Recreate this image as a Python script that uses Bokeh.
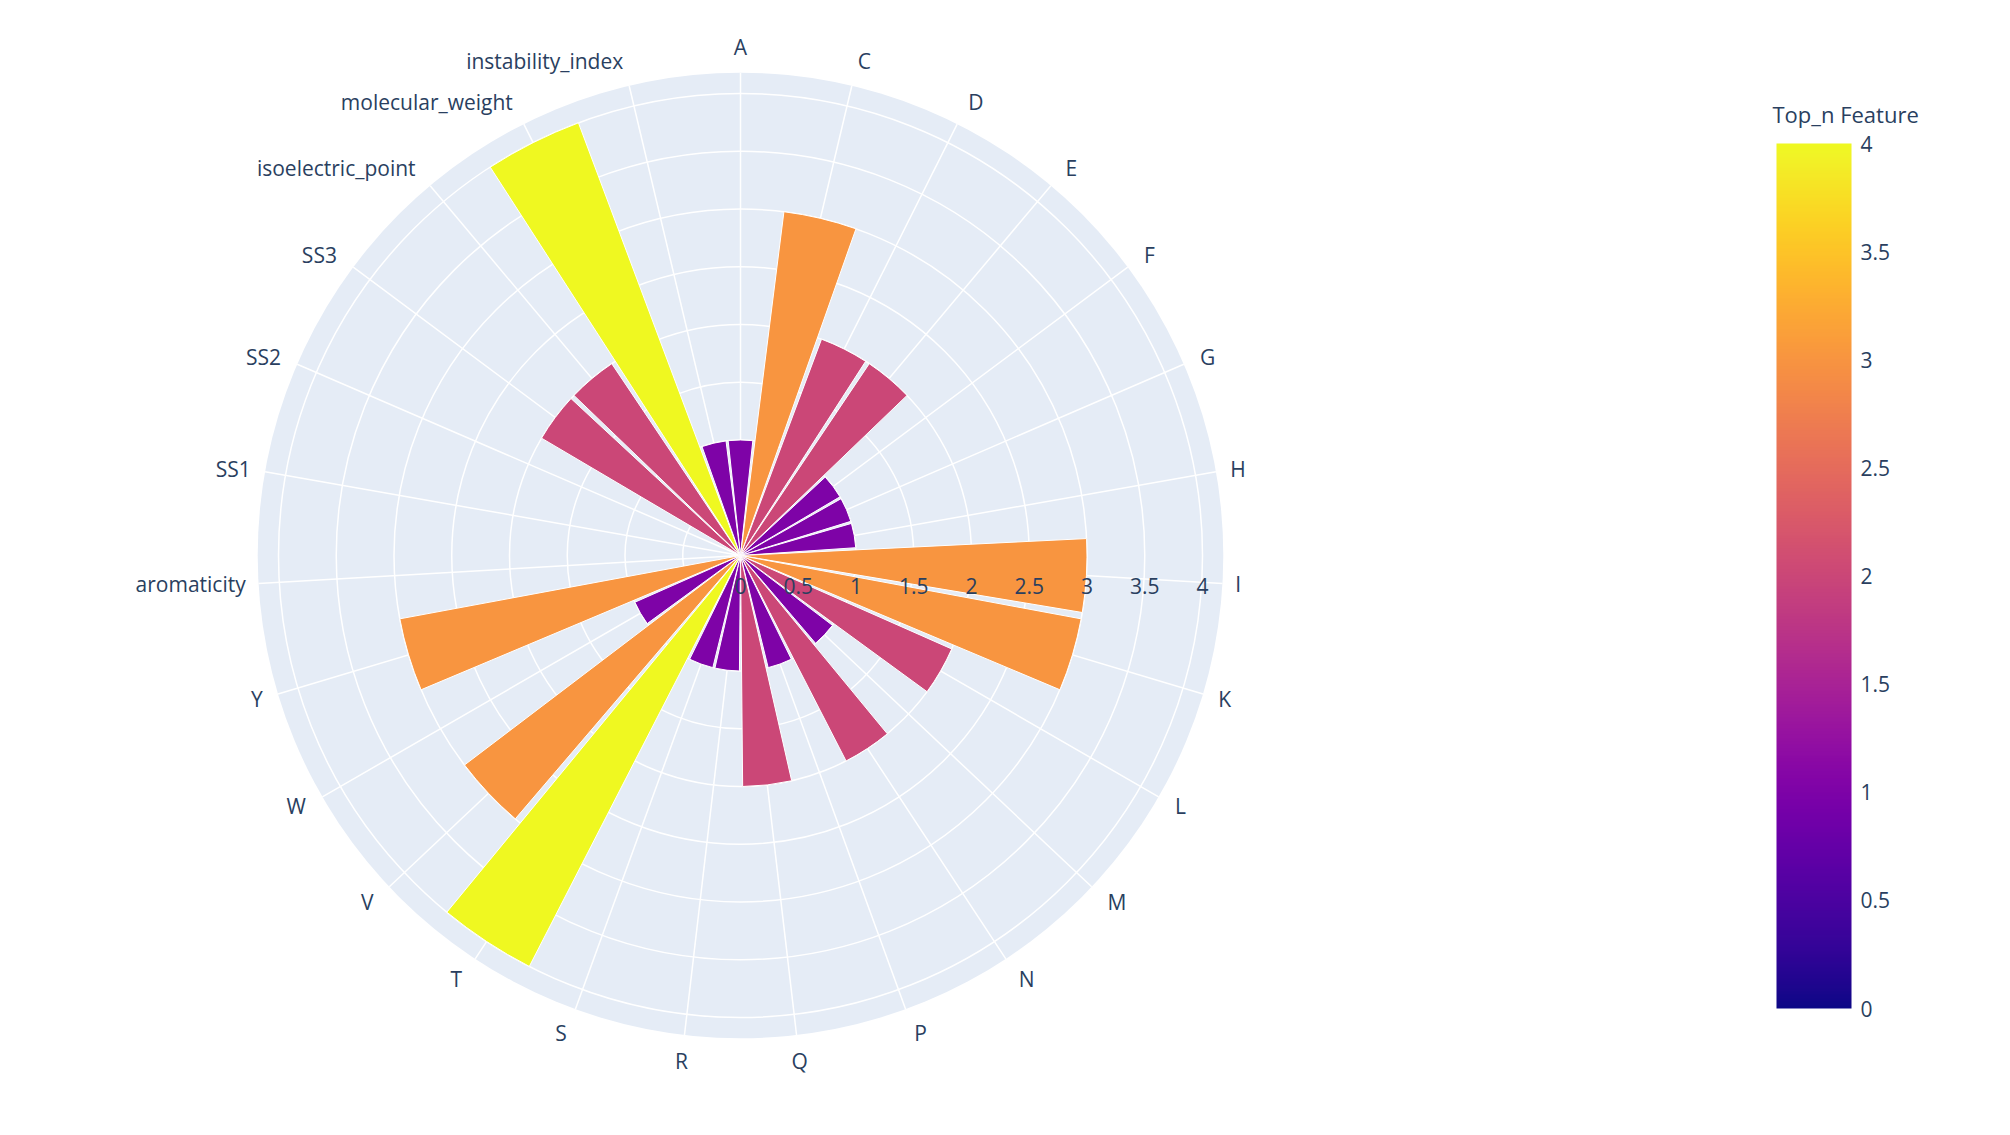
import numpy as np
from bokeh.plotting import figure
from bokeh.models import Range1d, ColumnDataSource, LinearColorMapper
from bokeh.transform import transform
from bokeh.palettes import Plasma256
from bokeh.core.properties import value
from bokeh.embed import file_html
from bokeh.resources import INLINE

categories = ["A", "C", "D", "E", "F", "G", "H", "I", "K", "L", "M", "N", "P", "Q", "R",
              "S", "T", "V", "W", "Y", "aromaticity", "SS1", "SS2", "SS3",
              "isoelectric_point", "molecular_weight", "instability_index"]
top_n = [1, 3, 2, 2, 1, 1, 1, 3, 3, 2, 1, 2, 1, 2, 1,
         1, 4, 3, 1, 3, 0, 0, 0, 2,
         2, 4, 1]
radial_ticks = [0, 0.5, 1, 1.5, 2, 2.5, 3, 3.5, 4]
colorbar_ticks = [0, 0.5, 1, 1.5, 2, 2.5, 3, 3.5, 4]
colorbar_title = "Top_n Feature"

W, H = 1994, 1119
cx, cy = 740, 555          # canvas px of polar centre
S = 115.5                  # px per unit
RMAX = 4.18
FONT = "Open Sans"
TXT = "#2a3f5f"

def X(px): return (px - cx) / S
def Y(py): return (cy - py) / S

p = figure(width=W, height=H, output_backend="svg", toolbar_location=None,
           x_range=Range1d(X(0), X(W)), y_range=Range1d(Y(H), Y(0)),
           min_border=0)
p.axis.visible = False
p.grid.visible = False
p.outline_line_color = None
p.background_fill_color = "white"

# polar background
p.circle(x=[0], y=[0], radius=RMAX, fill_color="#e5ecf6", line_color=None)
for r in radial_ticks[1:]:
    p.circle(x=[0], y=[0], radius=r, fill_color=None, line_color="white", line_width=1.5)

n = len(categories)
step = 2 * np.pi / n
cw = np.arange(n) * step                 # clockwise from top
math_ang = np.pi / 2 - cw
p.segment(x0=np.zeros(n), y0=np.zeros(n), x1=RMAX * np.cos(math_ang), y1=RMAX * np.sin(math_ang),
          line_color="white", line_width=1.5)

mapper = LinearColorMapper(palette=Plasma256, low=0, high=4)
half = step * 0.46
src = ColumnDataSource(dict(cat=categories, v=top_n, start=math_ang - half, end=math_ang + half))
p.annular_wedge(x=0, y=0, inner_radius=0, outer_radius="v", start_angle="start", end_angle="end",
                source=src, fill_color=transform("v", mapper), line_color="white", line_width=1)

# category labels
lx, ly, la = [], [], []
for a, ca in zip(math_ang, cw):
    sx, cyv = np.cos(a), np.sin(a)
    rr = RMAX + (12 + 14 * abs(cyv)) / S
    lx.append(rr * sx); ly.append(rr * cyv)
    la.append("center" if abs(sx) < 0.15 else ("left" if sx > 0 else "right"))
p.text(x=lx, y=ly, text=categories, text_align=la, text_baseline="middle",
       text_font=value(FONT), text_font_size="21px", text_color=TXT)

# radial tick labels
p.text(x=radial_ticks, y=[Y(cy + 30)] * len(radial_ticks), text=[f"{t:g}" for t in radial_ticks],
       text_align="center", text_baseline="middle", text_font=value(FONT),
       text_font_size="21px", text_color=TXT)

# colour bar
bx0, bx1, by0, by1 = 1776, 1851, 143, 1008
grad = np.linspace(0, 4, 256).reshape(-1, 1)
p.image(image=[grad], x=X(bx0), y=Y(by1), dw=(bx1 - bx0) / S, dh=(by1 - by0) / S, color_mapper=mapper)
ty = [Y(by1 - (by1 - by0) * t / 4) for t in colorbar_ticks]
p.text(x=[X(bx1 + 9)] * len(colorbar_ticks), y=ty, text=[f"{t:g}" for t in colorbar_ticks],
       text_align="left", text_baseline="middle", text_font=value(FONT),
       text_font_size="21px", text_color=TXT)
p.text(x=[X(bx0 - 4)], y=[Y(113)], text=[colorbar_title], text_align="left", text_baseline="middle",
       text_font=value(FONT), text_font_size="22px", text_color=TXT)

open("out.html", "w").write(file_html(p, INLINE))
